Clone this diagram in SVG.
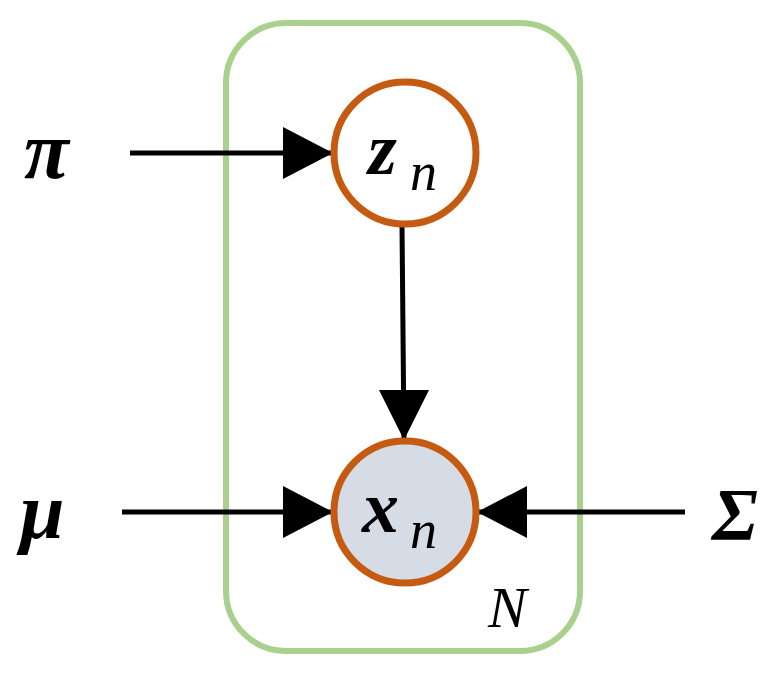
<svg xmlns="http://www.w3.org/2000/svg" width="779" height="677" viewBox="0 0 779 677">
<defs>
<style>
.c{stroke:#c55a11;stroke-width:7}
.e{stroke:#000;stroke-width:5;fill:none}
.t{font-family:"Liberation Serif",serif;font-style:italic;font-weight:bold;fill:#000}
.n{font-family:"Liberation Serif",serif;font-style:italic;fill:#000}
</style>
</defs>
<g id="plate"><rect x="226" y="23" width="354" height="628" rx="60" fill="none" stroke="#a9d18e" stroke-width="6"/>
<text class="n" x="488" y="627" font-size="58">N</text></g>
<g id="connectors">
<line class="e" x1="130" y1="153" x2="333" y2="153"/><path d="M283,127 L333,153 L283,179 Z"/>
<line class="e" x1="402" y1="225" x2="404" y2="440"/><path d="M379,390 L404,440 L429,390 Z"/>
<line class="e" x1="122" y1="512" x2="333" y2="512"/><path d="M283,486 L333,512 L283,538 Z"/>
<line class="e" x1="685" y1="512" x2="477" y2="512"/><path d="M527,486 L477,512 L527,538 Z"/>
</g>
<g id="z"><circle class="c" cx="405" cy="153" r="71" fill="#fff"/>
<text class="t" x="368" y="174" font-size="74">z</text><text class="n" x="410" y="190" font-size="54">n</text></g>
<g id="x"><circle class="c" cx="405" cy="512" r="71" fill="#d6dce5"/>
<text class="t" x="362" y="532" font-size="74">x</text><text class="n" x="410" y="548" font-size="54">n</text></g>
<g id="pi"><text class="t" x="24" y="178" font-size="82">π</text></g>
<g id="mu"><text class="t" x="20" y="538" font-size="80">μ</text></g>
<g id="sigma"><text class="t" x="712" y="540" font-size="74">Σ</text></g>
</svg>
